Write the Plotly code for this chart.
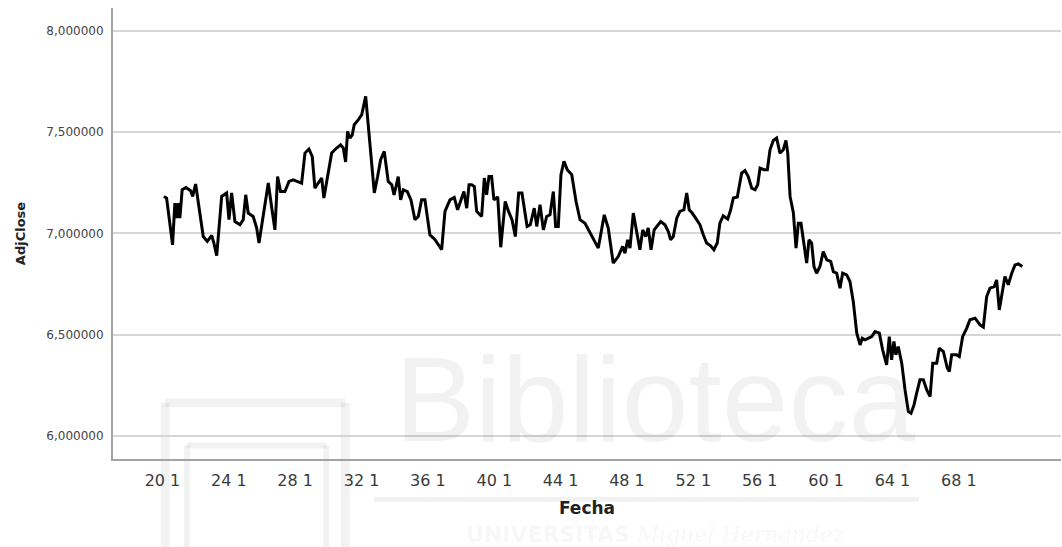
import plotly.graph_objects as go

# Period positions on the Fecha axis and the adjusted close at each one
fecha = [20.09, 20.25, 20.61, 20.75, 20.86, 20.95, 21.05, 21.19, 21.42, 21.70,
         21.82, 22.00, 22.46, 22.70, 22.97, 23.10, 23.27, 23.57, 23.87, 24.01,
         24.17, 24.37, 24.67, 24.87, 25.02, 25.17, 25.47, 25.68, 25.82, 26.08,
         26.38, 26.62, 26.78, 26.94, 27.12, 27.38, 27.63, 27.88, 28.39, 28.59,
         28.83, 29.03, 29.19, 29.39, 29.60, 29.73,
         30.20, 30.50, 30.74, 30.90, 31.04, 31.16, 31.30, 31.44, 31.56, 31.80,
         32.01, 32.25, 32.51, 32.77, 32.97, 33.15, 33.37, 33.61, 33.82, 33.96,
         34.08, 34.21, 34.36, 34.52, 34.76, 34.98, 35.22, 35.42, 35.62, 35.82,
         36.12, 36.43, 36.83, 37.03, 37.33, 37.59, 37.79, 37.99, 38.17, 38.34,
         38.48, 38.64, 38.80, 38.94, 39.24, 39.40, 39.54, 39.68, 39.84, 39.98,
         40.21, 40.39, 40.66, 40.86, 41.07, 41.27, 41.47, 41.67, 41.98, 42.17,
         42.41, 42.56, 42.76, 42.96, 43.16, 43.36, 43.56, 43.70, 43.86, 44.02,
         44.20, 44.40, 44.67, 44.93, 45.17, 45.47, 45.77, 46.07, 46.27, 46.63,
         46.87, 47.17, 47.47, 47.74, 47.88, 48.04, 48.18, 48.38, 48.58, 48.78,
         48.95, 49.13, 49.28, 49.45, 49.64, 50.03, 50.29,
         50.49, 50.63, 50.79, 51.00, 51.19, 51.43, 51.60, 51.75, 51.93, 52.14,
         52.40, 52.60, 52.80, 53.04, 53.24, 53.44, 53.60, 53.80, 54.07, 54.25,
         54.41, 54.65, 54.91, 55.11, 55.31, 55.52, 55.72, 55.88, 56.02, 56.26,
         56.46, 56.62, 56.82, 57.02, 57.22, 57.42, 57.58, 57.69, 57.83, 58.03,
         58.19, 58.33, 58.49, 58.63, 58.83, 58.97, 59.13, 59.27, 59.43, 59.63,
         59.83, 60.04, 60.28,
         60.44, 60.64, 60.84, 61.00, 61.24, 61.44, 61.64, 61.85, 62.05, 62.18,
         62.35, 62.54, 62.75, 62.95, 63.21, 63.41, 63.65, 63.81, 63.95, 64.09,
         64.21, 64.35, 64.56, 64.76, 64.96, 65.12, 65.30, 65.46, 65.66, 65.86,
         66.07, 66.27, 66.43, 66.67, 66.82, 67.07, 67.31, 67.43, 67.57, 67.87,
         68.03, 68.23, 68.48, 68.67, 68.98, 69.28, 69.48, 69.68, 69.88, 70.14,
         70.28, 70.44, 70.59, 70.78, 70.98, 71.19, 71.39, 71.59, 71.83]

adj_close = [7.182, 7.174, 6.943, 7.149, 7.075, 7.149, 7.075, 7.215, 7.226, 7.210,
             7.182, 7.243, 6.984, 6.960, 6.989, 6.952, 6.890, 7.182, 7.199, 7.067,
             7.199, 7.058, 7.042, 7.067, 7.190, 7.100, 7.083, 7.026, 6.952, 7.091,
             7.248, 7.108, 7.017, 7.280, 7.206, 7.206, 7.256, 7.264, 7.248, 7.396,
             7.416, 7.379, 7.223, 7.248, 7.273, 7.174,
             7.396, 7.421, 7.437, 7.421, 7.352, 7.503, 7.470, 7.486, 7.536, 7.560,
             7.585, 7.676, 7.453, 7.199, 7.280, 7.363, 7.404, 7.256, 7.240, 7.190,
             7.231, 7.280, 7.165, 7.215, 7.206, 7.165, 7.067, 7.083, 7.165, 7.165,
             6.993, 6.968, 6.919, 7.108, 7.165, 7.177, 7.116, 7.165, 7.206, 7.124,
             7.240, 7.240, 7.231, 7.108, 7.083, 7.273, 7.190, 7.280, 7.280, 7.165,
             7.180, 6.931, 7.157, 7.108, 7.067, 6.984, 7.199, 7.199, 7.034, 7.042,
             7.124, 7.034, 7.141, 7.017, 7.083, 7.091, 7.206, 7.034, 7.034, 7.289,
             7.355, 7.314, 7.289, 7.157, 7.067, 7.050, 7.001, 6.960, 6.927, 7.091,
             7.026, 6.853, 6.885, 6.935, 6.902, 6.968, 6.927, 7.100, 7.017, 6.919,
             7.017, 6.984, 7.026, 6.919, 7.017, 7.058, 7.042,
             7.009, 6.968, 6.984, 7.075, 7.108, 7.116, 7.199, 7.116, 7.100, 7.075,
             7.042, 6.993, 6.952, 6.938, 6.919, 6.952, 7.050, 7.086, 7.070, 7.116,
             7.174, 7.179, 7.297, 7.310, 7.280, 7.223, 7.215, 7.240, 7.322, 7.314,
             7.314, 7.412, 7.458, 7.470, 7.396, 7.412, 7.458, 7.396, 7.182, 7.100,
             6.927, 7.050, 7.050, 6.968, 6.853, 6.968, 6.952, 6.836, 6.803, 6.836,
             6.910, 6.869, 6.861,
             6.811, 6.803, 6.729, 6.803, 6.795, 6.762, 6.663, 6.507, 6.449, 6.482,
             6.474, 6.482, 6.490, 6.515, 6.507, 6.425, 6.351, 6.490, 6.375, 6.466,
             6.400, 6.441, 6.359, 6.227, 6.120, 6.112, 6.153, 6.211, 6.277, 6.277,
             6.227, 6.194, 6.359, 6.359, 6.433, 6.416, 6.334, 6.318, 6.400, 6.400,
             6.392, 6.490, 6.532, 6.573, 6.581, 6.548, 6.537, 6.688, 6.729, 6.737,
             6.770, 6.622, 6.705, 6.787, 6.746, 6.803, 6.844, 6.849, 6.836]

# Fecha tick marks and their labels
tick_pos = [20, 24, 28, 32, 36, 40, 44, 48, 52, 56, 60, 64, 68]
tick_text = ["20 1", "24 1", "28 1", "32 1", "36 1", "40 1", "44 1",
             "48 1", "52 1", "56 1", "60 1", "64 1", "68 1"]
y_ticks = [6.0, 6.5, 7.0, 7.5, 8.0]

FONT = "DejaVu Sans"
AXIS_GREY = "#a3a3a3"
WM = "rgba(0,0,0,0.05)"

fig = go.Figure()
fig.add_trace(go.Scatter(
    x=fecha, y=adj_close, mode="lines",
    line=dict(color="#000000", width=3),
    showlegend=False, hoverinfo="x+y",
))

# Library watermark: logo frame, wordmark and university name
shapes = []
def frame(x0, x1, ytop, w):
    return [
        dict(type="line", xref="paper", yref="paper", x0=x0, x1=x1, y0=ytop, y1=ytop,
             line=dict(color=WM, width=w), layer="below"),
        dict(type="line", xref="paper", yref="paper", x0=x0, x1=x0, y0=ytop, y1=-0.2,
             line=dict(color=WM, width=w), layer="below"),
        dict(type="line", xref="paper", yref="paper", x0=x1, x1=x1, y0=ytop, y1=-0.2,
             line=dict(color=WM, width=w), layer="below"),
    ]
shapes += frame(0.055, 0.245, 0.125, 9)
shapes += frame(0.078, 0.225, 0.03, 6)
shapes.append(dict(type="line", xref="paper", yref="paper", x0=0.275, x1=0.85,
                   y0=-0.09, y1=-0.09, line=dict(color=WM, width=5), layer="below"))

annotations = [
    dict(text="Biblioteca", xref="paper", yref="paper", x=0.572, y=-0.02,
         xanchor="center", yanchor="bottom", showarrow=False,
         font=dict(family="Liberation Sans", size=120, color=WM)),
    dict(text="<b>UNIVERSITAS</b> <span style='font-family:DejaVu Serif'><i>Miguel Hernández</i></span>",
         xref="paper", yref="paper",
         x=0.572, y=-0.1353, xanchor="center", yanchor="top", showarrow=False,
         font=dict(family="DejaVu Sans", size=22, color=WM)),
]

fig.update_layout(
    width=1062, height=547,
    margin=dict(l=113, r=1, t=8, b=88),
    paper_bgcolor="white", plot_bgcolor="white",
    separators=", ",
    font=dict(family=FONT, color="#333333"),
    shapes=shapes, annotations=annotations,
    xaxis=dict(
        range=[17.02, 74.16],
        tickmode="array", tickvals=tick_pos, ticktext=tick_text,
        tickfont=dict(family=FONT, size=16, color="#3a3a3a"),
        ticks="", ticklabelstandoff=6,
        showgrid=False, zeroline=False,
        showline=True, linecolor=AXIS_GREY, linewidth=2,
        title=dict(text="<b>Fecha</b>", font=dict(family=FONT, size=17, color="#222222"),
                   standoff=13),
    ),
    yaxis=dict(
        range=[5.886, 8.112],
        tickmode="array", tickvals=y_ticks, tickformat=".6f",
        tickfont=dict(family=FONT, size=12, color="#444444"),
        ticks="", ticklabelstandoff=5,
        showgrid=True, gridcolor="#d6d6d6", gridwidth=1.5,
        zeroline=False,
        showline=True, linecolor=AXIS_GREY, linewidth=2,
        title=dict(text="<b>AdjClose</b>", font=dict(family=FONT, size=13, color="#222222"),
                   standoff=18),
    ),
)

fig.write_html("out.html")
